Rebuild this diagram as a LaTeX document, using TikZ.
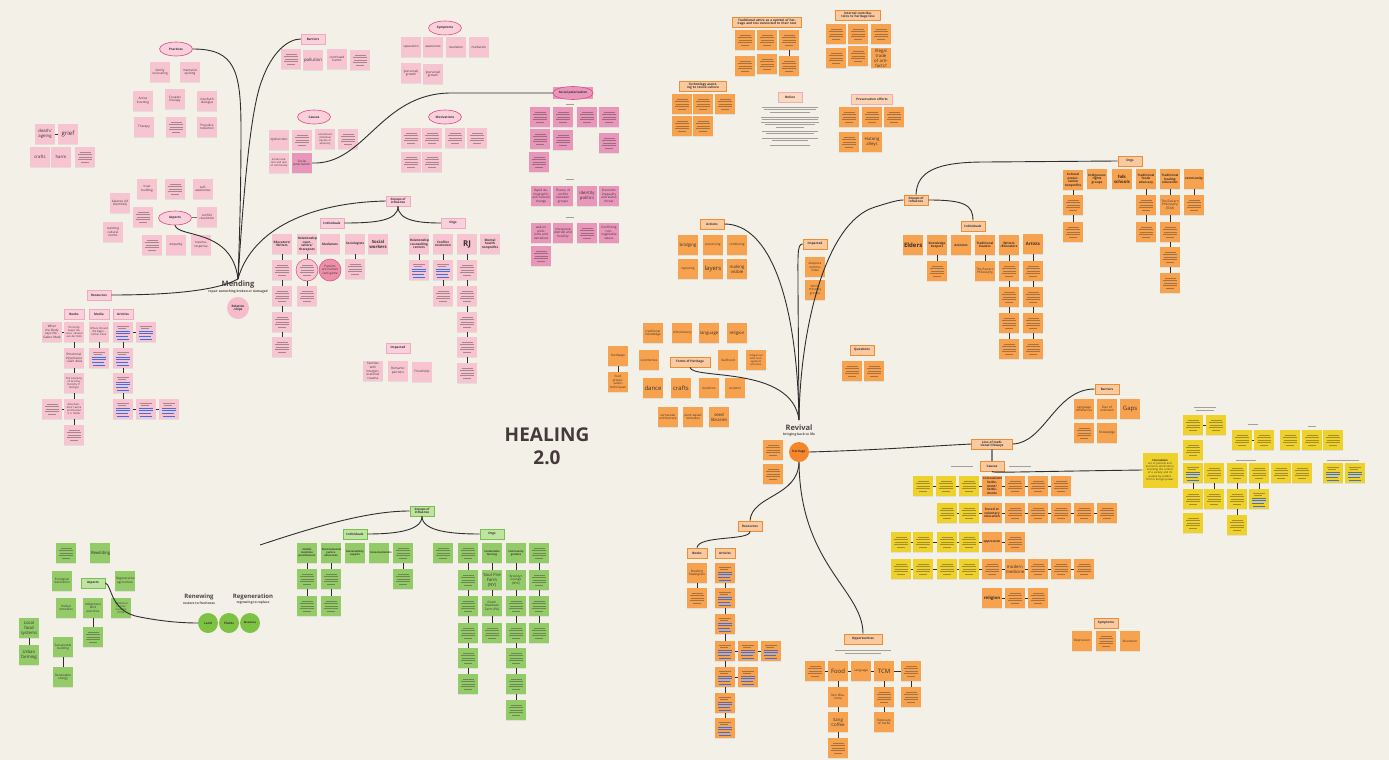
\documentclass[tikz,border=0pt]{standalone}
\usepackage{fontspec}
\setmainfont{Open Sans}
\usetikzlibrary{shapes.geometric,shadows}
\definecolor{bgc}{HTML}{F3F0E8}
\definecolor{pinkc}{HTML}{F7C5D2}
\definecolor{dpink}{HTML}{E896BA}
\definecolor{pinkh}{HTML}{F9D0DB}
\definecolor{pinkb}{HTML}{F0A9BF}
\definecolor{ellb}{HTML}{E04A82}
\definecolor{orangec}{HTML}{F7A24E}
\definecolor{orangeh}{HTML}{F9C9A0}
\definecolor{orangeb}{HTML}{F28C32}
\definecolor{yellowc}{HTML}{EFD12C}
\definecolor{greenc}{HTML}{92CB68}
\definecolor{greenh}{HTML}{BFE3A1}
\definecolor{greenb}{HTML}{79BF4B}
\definecolor{greencirc}{HTML}{7DC242}
\definecolor{herit}{HTML}{F5862A}
\definecolor{pcirc}{HTML}{F5BDCC}
\definecolor{pcircd}{HTML}{EC8FA8}
\definecolor{txt}{HTML}{3A3030}
\definecolor{linec}{HTML}{2E2E2E}
\definecolor{bluec}{HTML}{3D6FE6}
\newcommand\fA{\fontsize{3.1}{3.6}\selectfont}
\newcommand\fB{\fontsize{4.3}{5}\selectfont}
\newcommand\fC{\fontsize{6}{6.8}\selectfont}
\newcommand\fD{\fontsize{8}{9}\selectfont}
\newcommand\Nt[4][]{\node[#1] (#2) at (#3) {#4};}
\newcommand\fakelines[1]{\draw[fl,shift={(#1)}] (-5.5,-5)--(5.5,-5) (-7,-2.5)--(7,-2.5) (-6.5,0)--(6.5,0) (-7,2.5)--(7,2.5) (-4,5)--(4,5);}
\newcommand\bluelines[1]{\draw[fl,shift={(#1)}] (-6,-6)--(6,-6) (-5,-3.8)--(3,-3.8); \draw[bl,shift={(#1)}] (-7,-1)--(7,-1) (-7,1.8)--(7,1.8) (-7,4.6)--(5,4.6) (-6,7)--(6,7);}
\newcommand\Ft[3][]{\node[#1] (#2) at (#3) {}; \fakelines{#3}}
\newcommand\Fb[3][]{\node[#1] (#2) at (#3) {}; \bluelines{#3}}
\newcommand\hln[2]{\draw[fl,shift={(#1)}] (-#2,0)--(#2,0);}
\tikzset{
 note/.style={minimum width=20pt,minimum height=20pt,inner sep=0.5pt,text width=18pt,align=center,font=\fA,text=txt,drop shadow={shadow xshift=0.4pt,shadow yshift=-0.6pt,opacity=0.15}},
 pk/.style={note,fill=pinkc},
 dpk/.style={note,fill=dpink},
 og/.style={note,fill=orangec},
 yl/.style={note,fill=yellowc},
 gr/.style={note,fill=greenc},
 hdbase/.style={inner sep=1.2pt,minimum width=24pt,minimum height=10pt,font=\fA\bfseries,align=center,text=txt},
 hdp/.style={hdbase,fill=pinkh,draw=pinkb,line width=0.5pt},
 hdo/.style={hdbase,fill=orangeh,draw=orangeb,line width=0.8pt},
 hdg/.style={hdbase,fill=greenh,draw=greenb,line width=0.8pt},
 elp/.style={ellipse,draw=ellb,line width=0.6pt,fill=pinkh,minimum width=33pt,minimum height=14pt,inner sep=0pt,font=\fA\bfseries,text=txt},
 conn/.style={draw=linec,line width=0.9pt},
 sc/.style={draw=linec,line width=0.5pt},
 fl/.style={draw=txt,draw opacity=0.42,line width=0.35pt},
 bl/.style={draw=bluec,line width=0.9pt},
 hub/.style={font=\fontsize{7.5}{8}\selectfont\bfseries,text=txt!90,inner sep=0pt},
 subt/.style={font=\fontsize{3.2}{3.6}\selectfont\bfseries,text=txt!90,inner sep=0pt},
 gcirc/.style={circle,fill=greencirc,minimum size=20pt,inner sep=0pt,font=\fA\bfseries,text=txt}
}
\begin{document}
\begin{tikzpicture}[x=1pt,y=-1pt]
\useasboundingbox (0,0) rectangle (1389,760);
\fill[bgc] (0,0) rectangle (1389,760);

% ================= MENDING (pink) =================
\coordinate (mh) at (238,279);
\node[hub] (mend) at (238,285) {Mending};
\node[subt] (mendsub) at (238,292) {repair something broken or damaged};
\node[circle,fill=pcirc,minimum size=22pt,inner sep=0pt,font=\fA\bfseries,align=center,text=txt] (rel) at (238,308) {Relation\\-ships};

% Practices
\Nt[elp]{pr}{176,49}{Practices}
\Nt[pk]{pa1}{160,72}{family counseling}
\Nt[pk]{pa2}{190,72}{memorial quilting}
\Nt[pk]{pa3}{143,101}{Active listening}
\Nt[pk]{pa4}{175,99}{Couples therapy}
\Nt[pk]{pa5}{207,101}{interfaith dialogue}
\Nt[pk]{pa6}{144,127}{Therapy}
\Ft[pk]{pa7}{176,127}
\Nt[pk]{pa8}{207,127}{Prejudice reduction}
\Nt[pk,font=\fB]{pa9}{45,134}{death/ ageing}
\Nt[pk,font=\fC]{pa10}{68,134}{grief}
\Nt[pk,font=\fB]{pa11}{40,157}{crafts}
\Nt[pk,font=\fB]{pa12}{61,157}{harm}
\Ft[pk]{pa13}{85,157}
\draw[sc] (pa9) -- (pa10);

% Aspects
\Nt[elp]{asp}{175,218}{Aspects}
\Nt[pk]{as1}{147,189}{trust building}
\Ft[pk]{as2}{175,189}
\Nt[pk]{as3}{203,189}{self-awareness}
\Nt[pk]{as4}{120,203}{balance (of identities)}
\Ft[pk]{as5}{143,217}
\Nt[pk]{as6}{207,217}{conflict resolution}
\Nt[pk]{as7}{113,232}{resisting cultural norms}
\Ft[pk]{as8}{152,245}
\Nt[pk]{as9}{176,245}{empathy}
\Nt[pk]{as10}{201,245}{trauma-response}
\draw[sc] (asp) -- (as6);

% Barriers
\Nt[hdp]{barP}{313,39}{Barriers}
\Ft[pk]{bp1}{291,59}
\Nt[pk,font=\fB]{bp2}{313,60}{pollution}
\Nt[pk]{bp3}{337,59}{continued harms}
\Ft[pk]{bp4}{360,60}

% Symptoms
\Nt[elp]{symP}{445,28}{Symptoms}
\Nt[pk]{sy1}{411,47}{separation}
\Nt[pk]{sy2}{433,47}{awareness}
\Nt[pk]{sy3}{456,47}{revelation}
\Nt[pk]{sy4}{479,47}{mediation}
\Nt[pk]{sy5}{411,73}{(personal) growth}
\Nt[pk]{sy6}{433,74}{(personal) growth}

% Causes
\Nt[elp]{cauP}{314,117}{Causes}
\Nt[pk]{ca1}{279,140}{dysfunction}
\Ft[pk]{ca2}{302,140}
\Nt[pk,font=\fontsize{2.6}{3}\selectfont]{ca3}{325,139}{unresolved individual trauma or adversity}
\Ft[pk]{ca4}{348,139}
\Nt[pk,font=\fontsize{2.6}{3}\selectfont]{ca5}{279,163}{Social isolation and lack of community}
\Nt[dpk]{ca6}{302,163}{Social polarization}

% Motivations
\Nt[elp]{motP}{445,117}{Motivations}
\Ft[pk]{mo1}{411,138}
\Ft[pk]{mo2}{432,138}
\Ft[pk]{mo3}{455,138}
\Ft[pk]{mo4}{477,138}
\Ft[pk]{mo5}{411,162}
\Ft[pk]{mo6}{432,162}

% Social polarization cluster
\node[fill=dpink,minimum width=40pt,minimum height=12pt,inner sep=0pt] (spR) at (573,93) {};
\Nt[elp,fill=none,minimum width=38pt,minimum height=13pt]{spE}{573,93}{Social polarization}
\hln{570,104}{4}
\Ft[dpk]{sp1}{540,117}
\Ft[dpk]{sp2}{563,117}
\Ft[dpk]{sp3}{587,117}
\Ft[dpk]{sp4}{609,117}
\Ft[dpk]{sp5}{540,139}
\Ft[dpk]{sp6}{563,140}
\Ft[dpk]{sp7}{609,143}
\Ft[dpk]{sp8}{539,162}
\hln{570,179}{4}
\Nt[dpk]{sp9}{541,196}{Rapid demographic and cultural change}
\Nt[dpk]{sp10}{563,196}{Theory of conflict between groups}
\Nt[dpk,font=\fB]{sp11}{587,196}{identity politics}
\Nt[dpk]{sp12}{609,196}{Economic inequality and status threat}
\hln{570,217}{4}
\Nt[dpk]{sp13}{541,233}{wall-on problems and narratives}
\Nt[dpk]{sp14}{563,233}{Intergroup distrust and hostility}
\Ft[dpk]{sp15}{587,233}
\Nt[dpk]{sp16}{609,233}{Conflicting non-negotiable values}
\Ft[dpk]{sp17}{541,256}

% Groups of influence (pink)
\Nt[hdp]{goiP}{398,201}{Groups of\\influence}
\Nt[hdp]{indP}{332,223}{Individuals}
\Nt[hdp]{orgP}{453,223}{Orgs}
\Nt[pk,font=\fA\bfseries]{ip1}{282,244}{Educators/ Writers}
\Nt[pk,font=\fA\bfseries]{ip2}{307,244}{Relationship counsellors/ therapists}
\Nt[pk,font=\fA\bfseries]{ip3}{330,244}{Mediators}
\Nt[pk,font=\fA\bfseries]{ip4}{355,244}{Sociologists}
\Nt[pk,font=\fB\bfseries]{ip5}{378,244}{Social workers}
\Nt[pk,font=\fA\bfseries]{op1}{419,244}{Relationship counselling centers}
\Nt[pk,font=\fA\bfseries]{op2}{443,244}{Conflict resolution}
\Nt[pk,font=\fD\bfseries]{op3}{467,244}{RJ}
\Nt[pk,font=\fA\bfseries]{op4}{490,244}{Mental health nonprofits}
\Ft[pk]{ip1a}{282,270}
\Ft[pk]{ip1b}{282,296}
\Ft[pk]{ip1c}{282,322}
\Ft[pk]{ip1d}{282,347}
\node[pk,circle,draw=ellb,line width=0.5pt,minimum size=22pt] (ip2a) at (307,270) {}; \fakelines{307,270}
\Ft[pk]{ip2b}{307,296}
\node[note,circle,fill=pcircd,draw=ellb,line width=0.5pt,minimum size=22pt,text width=17pt] (ip3a) at (330,270) {Parents are human card game};
\Ft[pk]{ip4a}{355,269}
\Fb[pk]{op1a}{419,270}
\Fb[pk]{op2a}{443,270}
\Ft[pk]{op2b}{443,296}
\Ft[pk]{op3a}{467,270}
\Ft[pk]{op3b}{467,296}
\Ft[pk]{op3c}{467,322}
\Ft[pk]{op3d}{467,347}
\Ft[pk]{op3e}{467,373}
\foreach \a/\b in {ip1/ip1a,ip1a/ip1b,ip1b/ip1c,ip1c/ip1d,ip2/ip2a,ip2a/ip2b,ip4/ip4a,op1/op1a,op2/op2a,op2a/op2b,op3/op3a,op3a/op3b,op3b/op3c,op3c/op3d,op3d/op3e}
  \draw[sc] (\a) -- (\b);

% Impacted (pink)
\Nt[hdp]{impP}{398,348}{Impacted}
\Nt[pk]{im1}{373,371}{Families with intergenerational trauma}
\Nt[pk]{im2}{398,371}{Romantic partners}
\Nt[pk]{im3}{422,372}{Friendship}

% Resources (pink)
\Nt[hdp]{resP}{99,295}{Resources}
\Nt[hdp,minimum width=20pt]{bkP}{74,314}{Books}
\Nt[hdp,minimum width=20pt]{mdP}{99,314}{Media}
\Nt[hdp,minimum width=20pt]{arP}{123,314}{Articles}
\Nt[pk]{bk0}{52,332}{When the Body says No - Gabor Maté}
\Nt[pk,font=\fontsize{2.6}{3}\selectfont]{bk1}{74,332}{The body keeps the score - Bessel van der Kolk}
\Nt[pk]{bk2}{74,358}{Emotional inheritance - Galit Atlas}
\Nt[pk,font=\fontsize{2.6}{3}\selectfont]{bk3}{74,383}{The Anatomy of Grief by Dorothy P. Holinger}
\Nt[pk,font=\fontsize{2.6}{3}\selectfont]{bk4}{74,409}{Attached - Amir Levine and Rachel S. F. Heller}
\Ft[pk]{bk5}{74,435}
\Ft[pk]{bk6}{52,409}
\Nt[pk,font=\fontsize{2.6}{3}\selectfont]{md1}{99,332}{Where Should We Begin - Esther Perel}
\Fb[pk]{md2}{99,358}
\Fb[pk]{ar1}{123,332}
\Fb[pk]{ar2}{146,332}
\Fb[pk]{ar3}{123,358}
\Fb[pk]{ar4}{123,383}
\Fb[pk]{ar5}{123,409}
\Fb[pk]{ar6}{146,409}
\Fb[pk]{ar7}{169,409}
\foreach \a/\b in {bk0/bk1,bk1/bk2,bk2/bk3,bk3/bk4,bk4/bk5,bk6/bk4,md1/md2,ar1/ar2,ar1/ar3,ar3/ar4,ar4/ar5,ar5/ar6,ar6/ar7}
  \draw[sc] (\a) -- (\b);

% Mending connectors
\draw[conn] (pr.east) .. controls (235,49) and (241,70) .. (241,130) .. controls (241,200) and (239,250) .. (mh);
\draw[conn] (mh) .. controls (243,200) and (250,110) .. (262,80) .. controls (272,52) and (288,39) .. (barP.west);
\draw[conn] (asp.south) .. controls (178,238) and (232,228) .. (mh);
\draw[conn] (mh) .. controls (250,235) and (300,203) .. (goiP.west);
\draw[conn] (resP.east) .. controls (160,295) and (215,292) .. (mh);
\draw[conn] (ca6.east) .. controls (365,165) and (380,94) .. (450,93) -- (spR.west);
\draw[conn] (goiP.south) .. controls (398,221) and (375,223) .. (indP.east);
\draw[conn] (goiP.south) .. controls (398,221) and (420,223) .. (orgP.west);

% ================= HEALING =================
\node[font=\fontsize{19}{23}\selectfont\bfseries,align=center,text=txt!95] (heal) at (547,446) {HEALING\\2.0};

% ================= REVIVAL (orange) =================
\coordinate (rh) at (799,420);
\node[hub] (rev) at (799,428) {Revival};
\node[subt] (revsub) at (799,435) {bringing back to life};
\node[circle,fill=herit,minimum size=20pt,inner sep=0pt,font=\fA\bfseries,text=txt] (her) at (799,452) {heritage};
\Ft[og]{rv1}{773,450}
\Ft[og]{rv2}{773,474}

% top orange clusters
\Nt[hdo,text width=66pt]{tra}{767,22}{Traditional attire as a symbol of heritage and ties connected to their root}
\Ft[og]{tr1}{745,40}
\Ft[og]{tr2}{767,40}
\Ft[og]{tr3}{789,40}
\Ft[og]{tr4}{745,66}
\Ft[og]{tr5}{767,64}
\Ft[og]{tr6}{789,66}
\draw[sc] (tr3) -- (tr6);
\Nt[hdo,text width=42pt]{icl}{858,15}{Internal contributions to heritage loss}
\Ft[og]{ic1}{836,34}
\Ft[og]{ic2}{858,34}
\Ft[og]{ic3}{881,34}
\Ft[og]{ic4}{836,58}
\Ft[og]{ic5}{858,56}
\Nt[og,font=\fB]{ic6}{881,58}{Illegal trade of artifacts?}
\Nt[hdo,text width=44pt]{tec}{703,86}{Technology assisting to revive culture}
\Ft[og]{te1}{682,104}
\Ft[og]{te2}{703,104}
\Ft[og]{te3}{725,104}
\Ft[og]{te4}{682,126}
\Ft[og]{te5}{703,126}
\Nt[hdo,fill=orangeh!70,draw=pinkb]{onl}{790,97}{Online}
\hln{790,107}{28} \hln{790,109.5}{26} \hln{790,112}{20}
\hln{790,117}{29} \hln{790,119.5}{28} \hln{790,122}{29} \hln{790,124.5}{25} \hln{790,127}{14}
\hln{790,131}{28} \hln{790,133.5}{24}
\hln{790,138}{28} \hln{790,140.5}{18}
\hln{790,145}{20}
\Nt[hdo,fill=orangeh!80,draw=pinkb,text width=38pt]{pre}{872,99}{Preservation efforts}
\Ft[og]{pe1}{849,117}
\Ft[og]{pe2}{872,117}
\Ft[og]{pe3}{894,117}
\Ft[og]{pe4}{849,142}
\Nt[og,font=\fB]{pe5}{872,142}{Hutong alleys}

% Actions
\Nt[hdo]{act}{712,224}{Actions}
\Nt[og,font=\fB]{ac1}{688,245}{bridging}
\Nt[og]{ac2}{713,245}{preserving}
\Nt[og]{ac3}{737,245}{combining}
\Nt[og]{ac4}{688,269}{replacing}
\Nt[og,font=\fC]{ac5}{713,269}{layers}
\Nt[og,font=\fB]{ac6}{737,269}{making visible}
% Impacted
\Nt[hdo]{impO}{815,244}{Impacted}
\Nt[og]{io1}{815,267}{diaspora communities}
\Nt[og]{io2}{815,290}{ethnic minority groups}
% Forms of heritage
\Nt[og]{fh1}{653,333}{traditional knowledge}
\Nt[og]{fh2}{682,333}{ethnobotany}
\Nt[og,font=\fB]{fh3}{709,333}{language}
\Nt[og,font=\fB]{fh4}{737,333}{religion}
\Nt[og]{fh5}{618,356}{foodways}
\Nt[og]{fh6}{618,382}{food preservation techniques}
\Nt[og]{fh7}{649,360}{ceremonies}
\Nt[hdo,minimum width=40pt]{foh}{690,362}{Forms of Heritage}
\Nt[og]{fh8}{728,360}{livelihood}
\Nt[og,font=\fontsize{2.6}{3}\selectfont]{fh9}{756,360}{Indigenous land management practices}
\Nt[og,font=\fC]{fh10}{653,388}{dance}
\Nt[og,font=\fC]{fh11}{681,388}{crafts}
\Nt[og]{fh12}{709,388}{medicine}
\Nt[og]{fh13}{735,388}{customs}
\Nt[og]{fh14}{668,417}{vernacular architecture}
\Nt[og]{fh15}{693,417}{plant-based remedies}
\Nt[og,font=\fB]{fh16}{719,417}{seed libraries}
\draw[sc] (fh5) -- (fh6);
% Questions
\Nt[hdo]{que}{862,350}{Questions}
\Ft[og]{qu1}{852,371}
\Ft[og]{qu2}{874,371}

% Groups of influence (orange)
\Nt[hdo]{goiO}{916,200}{Groups of\\Influence}
\Nt[hdo]{indO}{973,226}{Individuals}
\Nt[hdo]{orgO}{1130,161}{Orgs}
\Nt[og,font=\fC\bfseries]{eo1}{913,245}{Elders}
\Nt[og,font=\fA\bfseries]{eo2}{937,245}{Knowledge keepers}
\Nt[og,font=\fA\bfseries]{eo3}{961,245}{Activists}
\Nt[og,font=\fA\bfseries]{eo4}{985,245}{Traditional healers}
\Nt[og,font=\fA\bfseries]{eo5}{1009,245}{Writers /Educators}
\Nt[og,font=\fB\bfseries]{eo6}{1033,244}{Artists}
\Ft[og]{eo2a}{937,271}
\Nt[og]{eo4a}{985,271}{The Eastern Philosophy}
\Ft[og]{eo5a}{1009,271}
\Ft[og]{eo5b}{1009,297}
\Ft[og]{eo5c}{1009,323}
\Ft[og]{eo5d}{1009,349}
\Ft[og]{eo6a}{1033,271}
\Ft[og]{eo6b}{1033,297}
\Ft[og]{eo6c}{1033,323}
\Ft[og]{eo6d}{1033,349}
\Nt[og,font=\fA\bfseries]{oo1}{1073,180}{Cultural preservation nonprofits}
\Nt[og,font=\fA\bfseries]{oo2}{1097,179}{Indigenous rights groups}
\Nt[og,font=\fB\bfseries]{oo3}{1122,179}{folk schools}
\Nt[og,font=\fA\bfseries]{oo4}{1146,179}{Traditional foods advocacy}
\Nt[og,font=\fA\bfseries]{oo5}{1170,179}{Traditional healing education}
\Nt[og,font=\fA\bfseries]{oo6}{1194,179}{community}
\Ft[og]{oo1a}{1073,205}
\Ft[og]{oo1b}{1073,232}
\Ft[og]{oo4a}{1146,205}
\Ft[og]{oo4b}{1146,232}
\Nt[og]{oo5a}{1170,205}{The Eastern Philosophy (TCM)}
\Ft[og]{oo5b}{1170,232}
\Ft[og]{oo5c}{1170,257}
\Ft[og]{oo5d}{1170,283}
\Ft[og]{oo6a}{1194,205}
\foreach \a/\b in {eo2/eo2a,eo4/eo4a,eo5/eo5a,eo5a/eo5b,eo5b/eo5c,eo5c/eo5d,eo6/eo6a,eo6a/eo6b,eo6b/eo6c,eo6c/eo6d,oo1/oo1a,oo1a/oo1b,oo4/oo4a,oo4a/oo4b,oo5/oo5a,oo5a/oo5b,oo5b/oo5c,oo5c/oo5d,oo6/oo6a}
  \draw[sc] (\a) -- (\b);

% Loss of traditional lifeways
\Nt[hdo]{barO}{1107,389}{Barriers}
\Nt[og]{bo1}{1084,409}{Language differences}
\Nt[og]{bo2}{1107,409}{Fear of unknown}
\Nt[og,font=\fC]{bo3}{1130,409}{Gaps}
\Ft[og]{bo4}{1084,433}
\Nt[og]{bo5}{1107,433}{Knowledge}
\Nt[hdo,text width=38pt]{loss}{992,444}{Loss of traditional lifeways}
\Nt[hdo]{cauO}{992,466}{Causes}
\hln{962,466}{11}
\hln{1020,466}{11}
% row 1
\Ft[yl]{L11}{923,486}
\Ft[yl]{L12}{946,486}
\Ft[yl]{L13}{969,486}
\Nt[og,font=\fA\bfseries]{L14}{992,486}{Colonialism/ Settlement/ Settlements}
\Ft[og]{L15}{1015,486}
\Ft[og]{L16}{1038,486}
\Ft[og]{L17}{1061,486}
% row 2
\Ft[yl]{L21}{947,513}
\Ft[yl]{L22}{969,513}
\Nt[og,font=\fA\bfseries]{L23}{992,513}{forced or voluntary relocation}
\Ft[og]{L24}{1015,513}
\Ft[og]{L25}{1038,513}
\Ft[og]{L26}{1061,513}
\Ft[og]{L27}{1084,513}
\Ft[og]{L28}{1107,513}
% row 3
\Ft[yl]{L31}{901,542}
\Ft[yl]{L32}{923,542}
\Ft[yl]{L33}{947,542}
\Ft[yl]{L34}{969,542}
\Nt[og,font=\fA\bfseries]{L35}{992,542}{oppression}
\Ft[og]{L36}{1015,542}
% row 4
\Ft[yl]{L41}{901,569}
\Ft[yl]{L42}{923,569}
\Ft[yl]{L43}{947,569}
\Ft[yl]{L44}{969,569}
\Ft[og]{L45}{992,569}
\Nt[og,font=\fB]{L46}{1015,569}{modern medicine}
\Ft[og]{L47}{1038,569}
\Ft[og]{L48}{1061,569}
\Ft[og]{L49}{1084,569}
% row 5
\Nt[og,font=\fB\bfseries]{L51}{992,598}{religion}
\Ft[og]{L52}{1015,598}
\Ft[og]{L53}{1038,598}
\foreach \a/\b in {L11/L12,L12/L13,L13/L14,L14/L15,L15/L16,L16/L17,L21/L22,L22/L23,L23/L24,L24/L25,L25/L26,L26/L27,L27/L28,L31/L32,L32/L33,L33/L34,L34/L35,L35/L36,L41/L42,L42/L43,L43/L44,L44/L45,L45/L46,L46/L47,L47/L48,L48/L49,L51/L52,L52/L53}
  \draw[sc] (\a) -- (\b);
% Symptoms (orange)
\Nt[hdo]{symO}{1106,623}{Symptoms}
\Nt[og]{so1}{1082,641}{Depression}
\Ft[og]{so2}{1106,641}
\Nt[og]{so3}{1130,641}{Alienation}

% Colonialism (yellow cluster)
\Nt[yl,minimum width=35pt,minimum height=35pt,text width=33pt,font=\fontsize{2.7}{3.2}\selectfont]{colo}{1160,470}{\textbf{Colonialism}\\ act of political and economic domination, involving the control of a society and its people by settlers from a foreign power}
\hln{1205,407}{11} \hln{1205,410}{9}
\Ft[yl]{yc1}{1193,425}
\Ft[yl]{yc2}{1216,425}
\Ft[yl]{yc3}{1193,450}
\hln{1253,424}{5}
\Ft[yl]{yh1}{1242,440}
\Ft[yl]{yh2}{1264,440}
\hln{1312,426}{4}
\Ft[yl]{yi1}{1290,440}
\Ft[yl]{yi2}{1312,440}
\Ft[yl]{yi3}{1333,440}
\hln{1246,460}{10}
\Fb[yl]{yt1}{1193,473}
\Ft[yl]{yt2}{1214,473}
\Ft[yl]{yt3}{1237,473}
\Ft[yl]{yt4}{1259,473}
\Ft[yl]{yt5}{1281,473}
\Ft[yl]{yt6}{1302,473}
\hln{1343,460}{16}
\Fb[yl]{yb1}{1333,473}
\Fb[yl]{yb2}{1355,473}
\Ft[yl]{yu1}{1193,499}
\Ft[yl]{yu2}{1214,499}
\Ft[yl]{yu3}{1237,499}
\Fb[yl]{yu4}{1259,499}
\Ft[yl]{yv1}{1193,523}
\Ft[yl]{yv3}{1237,525}
\foreach \a/\b in {yc1/yc2,yh1/yh2,yt1/yu1,yt2/yu2,yt3/yu3,yt4/yu4,yu3/yv3}
  \draw[sc] (\a) -- (\b);

% Resources (orange)
\Nt[hdo]{resO}{750,526}{Resources}
\Nt[hdo,minimum width=20pt]{bkO}{697,553}{Books}
\Nt[hdo,minimum width=20pt]{arO}{725,553}{Articles}
\Nt[og]{bq1}{697,573}{Braiding Sweetgrass}
\Ft[og]{bq2}{697,598}
\Fb[og]{aq1}{725,573}
\Fb[og]{aq2}{725,598}
\Fb[og]{aq3}{725,624}
\Fb[og]{aq4}{725,651}
\Fb[og]{aq5}{725,677}
\Fb[og]{aq6}{725,703}
\Fb[og]{aq7}{725,728}
\Fb[og]{aq8}{748,651}
\Fb[og]{aq9}{771,651}
\Fb[og]{aq10}{748,677}
\foreach \a/\b in {bq1/bq2,aq1/aq2,aq2/aq3,aq3/aq4,aq4/aq5,aq5/aq6,aq6/aq7,aq4/aq8,aq8/aq9,aq5/aq10}
  \draw[sc] (\a) -- (\b);

% Opportunities
\Nt[hdo,minimum width=38pt]{opp}{863,639}{Opportunities}
\hln{863,650}{28} \hln{863,653}{18}
\Ft[og]{oq1}{815,671}
\Nt[og,font=\fC]{oq2}{838,671}{Food}
\Nt[og]{oq3}{861,671}{Language}
\Nt[og,font=\fC]{oq4}{884,671}{TCM}
\Ft[og]{oq5}{911,671}
\Nt[og]{oq6}{838,697}{Ken Okamura}
\Nt[og,font=\fB]{oq7}{838,722}{Sang Coffee}
\Ft[og]{oq8}{838,748}
\Ft[og]{oq9}{884,697}
\Nt[og]{oq10}{884,722}{Exposure to herbs}
\Ft[og]{oq11}{911,697}
\foreach \a/\b in {oq1/oq2,oq2/oq3,oq3/oq4,oq4/oq5,oq2/oq6,oq6/oq7,oq7/oq8,oq4/oq9,oq9/oq10,oq5/oq11}
  \draw[sc] (\a) -- (\b);

% Revival connectors
\draw[conn] (act.east) .. controls (770,224) and (797,300) .. (rh);
\draw[conn] (impO.west) .. controls (797,244) and (798,255) .. (798,290) -- (rh);
\draw[conn] (rh) .. controls (800,330) and (825,222) .. (875,207) .. controls (888,203) and (897,200) .. (goiO.west);
\draw[conn] (foh.south) .. controls (692,380) and (792,365) .. (rh);
\draw[conn] (her.east) .. controls (880,450) and (930,446) .. (loss.west);
\draw[conn] (her.south) .. controls (798,497) and (752,495) .. (resO.north);
\draw[conn] (her.south) .. controls (800,565) and (863,590) .. (opp.north);
\draw[conn] (resO.south) .. controls (750,541) and (699,535) .. (bkO.north);
\draw[conn] (goiO.north) .. controls (917,172) and (935,162) .. (985,162) -- (orgO.west);
\draw[conn] (goiO.east) .. controls (965,200) and (973,205) .. (indO.north);
\draw[conn] (loss.east) .. controls (1045,443) and (1055,389) .. (barO.west);
\draw[draw=gray,line width=1.6pt] (loss.south) -- (cauO.north);
\draw[conn] (cauO.south) .. controls (993,473) and (1000,472) .. (colo.west);

% ================= REGENERATION (green) =================
\node[font=\fontsize{6}{7}\selectfont\bfseries,text=txt!90,inner sep=0pt] (renw) at (199,597) {Renewing};
\node[subt] (renwsub) at (199,603) {restore to freshness};
\node[font=\fontsize{6}{7}\selectfont\bfseries,text=txt!90,inner sep=0pt] (regn) at (253,597) {Regeneration};
\node[subt] (regnsub) at (253,603) {regrowing to replace};
\node[gcirc] (land) at (208,623) {Land};
\node[gcirc] (plants) at (229,623) {Plants};
\node[gcirc,font=\fontsize{2.6}{3}\selectfont\bfseries] (mead) at (250,623) {Meadows};

\Nt[hdg]{goiG}{422,511}{Groups of\\influence}
\Nt[hdg]{indG}{355,534}{Individuals}
\Nt[hdg]{orgG}{492,534}{Orgs}
\coordinate (g0) at (260,545);
\Nt[gr,font=\fontsize{2.6}{3}\selectfont\bfseries]{gi1}{307,553}{Herbal medicine practitioners}
\Nt[gr,font=\fontsize{2.6}{3}\selectfont\bfseries]{gi2}{331,553}{Environmental justice advocates}
\Nt[gr,font=\fontsize{2.6}{3}\selectfont\bfseries]{gi3}{355,553}{Sustainability experts}
\Nt[gr,font=\fontsize{2.6}{3}\selectfont\bfseries]{gi4}{379,553}{Conservationists}
\Ft[gr]{gi5}{403,553}
\Ft[gr]{gi1a}{307,579}
\Ft[gr]{gi2a}{331,579}
\Ft[gr]{gi1b}{307,606}
\Ft[gr]{gi2b}{331,606}
\Ft[gr]{gi5a}{403,579}
\Ft[gr]{go1}{443,553}
\Ft[gr]{go2}{468,553}
\Nt[gr,font=\fontsize{2.6}{3}\selectfont\bfseries]{go3}{492,553}{Sustainable farming}
\Nt[gr,font=\fontsize{2.6}{3}\selectfont\bfseries]{go4}{516,553}{Community gardens}
\Ft[gr]{go5}{539,553}
\Ft[gr]{go2a}{468,580}
\Ft[gr]{go2b}{468,606}
\Ft[gr]{go2c}{468,633}
\Ft[gr]{go2d}{468,658}
\Ft[gr]{go2e}{468,684}
\Nt[gr,font=\fB]{go3a}{492,580}{Soul Fire Farm (NY)}
\Nt[gr]{go3b}{492,606}{Dutch Meadows Farm (PA)}
\Ft[gr]{go3c}{492,633}
\Nt[gr]{go4a}{516,580}{Brooklyn Grange (NYC)}
\Ft[gr]{go4b}{516,606}
\Ft[gr]{go4c}{516,633}
\Ft[gr]{go4d}{516,658}
\Ft[gr]{go4e}{516,684}
\Ft[gr]{go4f}{516,710}
\Ft[gr]{go5a}{539,580}
\Ft[gr]{go5b}{539,606}
\Ft[gr]{go5c}{539,633}
\foreach \a/\b in {gi1/gi1a,gi1a/gi1b,gi2/gi2a,gi2a/gi2b,gi5/gi5a,go2/go2a,go2a/go2b,go2b/go2c,go2c/go2d,go2d/go2e,go3/go3a,go3a/go3b,go3b/go3c,go4/go4a,go4a/go4b,go4b/go4c,go4c/go4d,go4d/go4e,go4e/go4f,go5/go5a,go5a/go5b,go5b/go5c}
  \draw[sc] (\a) -- (\b);

% green aspects cluster
\Ft[gr]{gl1}{66,553}
\Nt[gr,font=\fB]{gl2}{100,553}{Rewilding}
\Nt[gr]{gl3}{62,581}{Ecological restoration}
\Nt[hdg]{aspG}{93,583}{Aspects}
\Nt[gr]{gl4}{125,581}{Regenerative agriculture}
\Nt[gr]{gl5}{66,608}{Herbal remedies}
\Nt[gr]{gl6}{93,608}{Indigenous land practices}
\Nt[gr,font=\fontsize{2.6}{3}\selectfont]{gl7}{121,608}{Traditional Chinese medicine (TCM)}
\Ft[gr]{gl8}{93,637}
\Nt[gr,font=\fB]{gl9}{29,628}{Local food systems}
\Nt[gr,font=\fB]{gl10}{29,655}{Urban farming}
\Nt[gr]{gl11}{63,647}{Sustainable building}
\Nt[gr]{gl12}{63,677}{Renewable energy}
\draw[sc] (gl6) -- (gl8);
\draw[sc] (gl9) -- (gl10);
\draw[sc] (gl11) -- (gl12);

% green connectors
\draw[conn] (g0) .. controls (320,525) and (370,511) .. (goiG.west);
\draw[conn] (goiG.south) .. controls (422,532) and (390,534) .. (indG.east);
\draw[conn] (goiG.south) .. controls (422,532) and (455,534) .. (orgG.west);
\draw[conn] (aspG.east) .. controls (112,585) and (110,612) .. (140,617) .. controls (160,621) and (180,623) .. (land.west);
\end{tikzpicture}
\end{document}
